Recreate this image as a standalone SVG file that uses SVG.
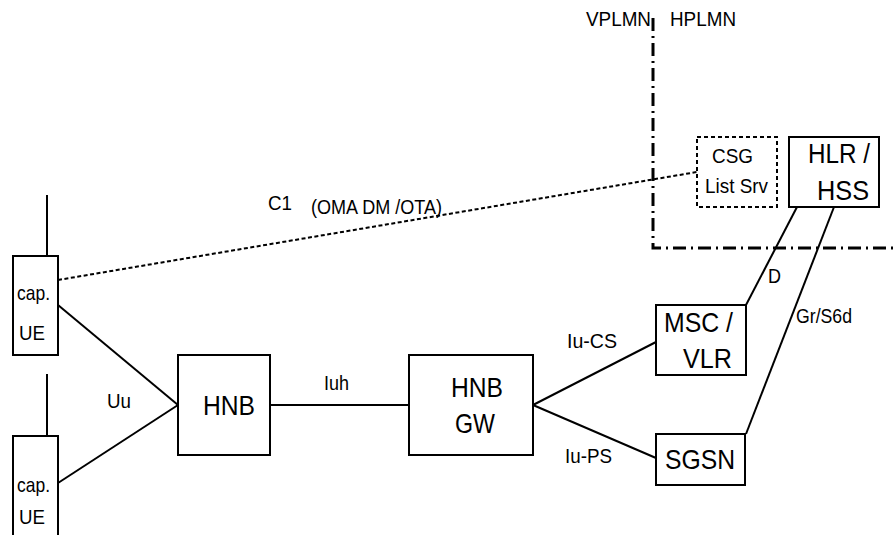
<svg xmlns="http://www.w3.org/2000/svg" width="893" height="535" viewBox="0 0 893 535">
<style>
  .box { fill: #fff; stroke: #000; stroke-width: 2; }
  .dbox { fill: #fff; stroke: #000; stroke-width: 2; stroke-dasharray: 4 3; }
  .ln { fill: none; stroke: #000; stroke-width: 2; }
  .dash { fill: none; stroke: #000; stroke-width: 2; stroke-dasharray: 4 2.5; }
  .border { fill: none; stroke: #000; stroke-width: 3; stroke-dasharray: 13 5 2 5; }
  .big { font-family: "Liberation Sans", Arial, sans-serif; font-size: 28px; fill: #000; }
  .sm { font-family: "Liberation Sans", Arial, sans-serif; font-size: 21px; fill: #000; }
</style>
<rect width="893" height="535" fill="#fff"/>

<!-- PLMN boundary -->
<g id="boundary">
  <polyline class="border" points="653,18 653,248 893,248"/>
  <text class="sm" x="586" y="26" textLength="65" lengthAdjust="spacingAndGlyphs">VPLMN</text>
  <text class="sm" x="670" y="26" textLength="66" lengthAdjust="spacingAndGlyphs">HPLMN</text>
</g>

<g id="connectors">
  <line class="dash" x1="58" y1="280" x2="697" y2="172"/>
  <line class="ln" x1="47" y1="195" x2="47" y2="256"/>
  <line class="ln" x1="47" y1="374" x2="47" y2="436"/>
  <line class="ln" x1="58" y1="305" x2="178" y2="405"/>
  <line class="ln" x1="58" y1="483" x2="178" y2="405"/>
  <line class="ln" x1="270" y1="405" x2="409" y2="405"/>
  <line class="ln" x1="533" y1="405" x2="656" y2="342"/>
  <line class="ln" x1="533" y1="405" x2="656" y2="458"/>
  <line class="ln" x1="746" y1="305" x2="797" y2="207"/>
  <line class="ln" x1="746" y1="434" x2="834" y2="207"/>
  <text class="sm" x="268" y="210" textLength="24" lengthAdjust="spacingAndGlyphs">C1</text>
  <text class="sm" x="311" y="214" textLength="131" lengthAdjust="spacingAndGlyphs">(OMA DM /OTA)</text>
  <text class="sm" x="107" y="408" textLength="24" lengthAdjust="spacingAndGlyphs">Uu</text>
  <text class="sm" x="324" y="390" textLength="25" lengthAdjust="spacingAndGlyphs">Iuh</text>
  <text class="sm" x="567" y="348" textLength="50" lengthAdjust="spacingAndGlyphs">Iu-CS</text>
  <text class="sm" x="565" y="463" textLength="47" lengthAdjust="spacingAndGlyphs">Iu-PS</text>
  <text class="sm" x="768" y="283" textLength="13" lengthAdjust="spacingAndGlyphs">D</text>
  <text class="sm" x="796" y="323" textLength="56" lengthAdjust="spacingAndGlyphs">Gr/S6d</text>
</g>

<g id="ue1">
  <rect class="box" x="13" y="256" width="45" height="99"/>
  <text class="sm" x="17" y="300" textLength="33" lengthAdjust="spacingAndGlyphs">cap.</text>
  <text class="sm" x="19" y="340" textLength="26" lengthAdjust="spacingAndGlyphs">UE</text>
</g>

<g id="ue2">
  <rect class="box" x="13" y="436" width="45" height="110"/>
  <text class="sm" x="17" y="492" textLength="33" lengthAdjust="spacingAndGlyphs">cap.</text>
  <text class="sm" x="19" y="524" textLength="26" lengthAdjust="spacingAndGlyphs">UE</text>
</g>

<g id="hnb">
  <rect class="box" x="178" y="355" width="92" height="100"/>
  <text class="big" x="203" y="415" textLength="52" lengthAdjust="spacingAndGlyphs">HNB</text>
</g>

<g id="hnbgw">
  <rect class="box" x="409" y="355" width="124" height="100"/>
  <text class="big" x="451" y="397" textLength="52" lengthAdjust="spacingAndGlyphs">HNB</text>
  <text class="big" x="455" y="433" textLength="40" lengthAdjust="spacingAndGlyphs">GW</text>
</g>

<g id="msc">
  <rect class="box" x="656" y="305" width="90" height="70"/>
  <text class="big" x="664" y="332" textLength="69" lengthAdjust="spacingAndGlyphs">MSC /</text>
  <text class="big" x="683" y="368" textLength="49" lengthAdjust="spacingAndGlyphs">VLR</text>
</g>

<g id="sgsn">
  <rect class="box" x="656" y="434" width="89" height="51"/>
  <text class="big" x="665" y="469" textLength="70" lengthAdjust="spacingAndGlyphs">SGSN</text>
</g>

<g id="csg">
  <rect class="dbox" x="697" y="137" width="80" height="70"/>
  <text class="sm" x="712" y="163" textLength="41" lengthAdjust="spacingAndGlyphs">CSG</text>
  <text class="sm" x="705" y="193" textLength="63" lengthAdjust="spacingAndGlyphs">List Srv</text>
</g>

<g id="hlr">
  <rect class="box" x="789" y="137" width="90" height="70"/>
  <text class="big" x="808" y="163" textLength="62" lengthAdjust="spacingAndGlyphs">HLR /</text>
  <text class="big" x="817" y="200" textLength="52" lengthAdjust="spacingAndGlyphs">HSS</text>
</g>
</svg>
